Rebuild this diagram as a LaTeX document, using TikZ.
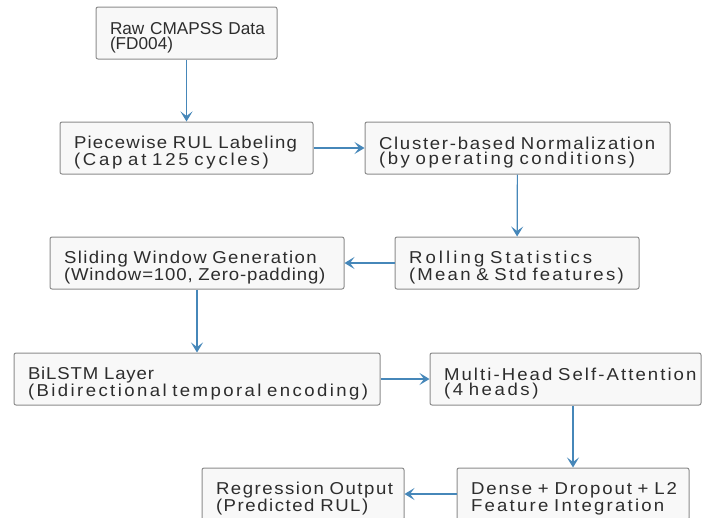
\documentclass[tikz,border=0pt]{standalone}
\usepackage{fontspec}
\setmainfont{Liberation Sans}
\newfontfamily\stagefont[FakeStretch=1.08, WordSpace=1.3]{Liberation Sans}
\usetikzlibrary{arrows.meta}

\definecolor{flowblue}{RGB}{70,135,185}
\definecolor{boxline}{RGB}{140,140,140}
\definecolor{boxfill}{RGB}{248,248,248}
\definecolor{boxtext}{RGB}{45,45,45}

% lines of a stage, each with its own letter spacing
\newcommand\topline[2]{\rule{0pt}{22pt}\mbox{\addfontfeature{LetterSpace=#1}#2}}
\newcommand\lsline[2]{\mbox{\addfontfeature{LetterSpace=#1}#2}}

\tikzset{
  stage/.style={draw=boxline, fill=boxfill, rounded corners=2pt, line width=1pt,
    minimum height=52pt, inner xsep=14pt, align=left, text=boxtext,
    font=\stagefont\fontsize{17.2}{15.5}\selectfont},
  flow/.style={draw=flowblue, line width=1.2pt,
    -{Stealth[length=10pt,width=12pt,inset=4.5pt]}}
}

\begin{document}
\begin{tikzpicture}[x=1pt,y=-1pt]
\useasboundingbox (0,0) rectangle (703,517);
\clip (0,0) rectangle (703,517);

%data preparation
\node[stage, text width=153pt, font=\rmfamily\fontsize{17.2}{15.5}\selectfont] (raw) at (186.5,33) {\topline{0}{Raw CMAPSS Data}\\\lsline{0}{(FD004)}};
\node[stage, text width=225pt] (rul) at (186.5,148) {\topline{7}{Piecewise RUL Labeling}\\\lsline{16}{(Cap at 125 cycles)}};
\node[stage, text width=277pt] (norm) at (517.5,148) {\topline{10}{Cluster-based Normalization}\\\lsline{15}{(by operating conditions)}};
\node[stage, text width=216pt] (roll) at (517,263) {\topline{18}{Rolling Statistics}\\\lsline{13}{(Mean \& Std features)}};
\node[stage, text width=266pt] (window) at (197,263) {\topline{8}{Sliding Window Generation}\\\lsline{5}{(Window=100, Zero-padding)}};

%model
\node[stage, text width=338pt] (bilstm) at (197,379) {\topline{5}{BiLSTM Layer}\\\lsline{14}{(Bidirectional temporal encoding)}};
\node[stage, text width=243pt] (attn) at (565.5,379) {\topline{12}{Multi-Head Self-Attention}\\\lsline{15}{(4 heads)}};
\node[stage, text width=204pt] (dense) at (573,494) {\topline{11}{Dense + Dropout + L2}\\\lsline{13}{Feature Integration}};
\node[stage, text width=174pt] (out) at (303,494) {\topline{9}{Regression Output}\\\lsline{9}{(Predicted RUL)}};

%connect the stages
\draw[flow] (raw) -- (rul);
\draw[flow] (rul) -- (norm);
\draw[flow] (norm) -- (roll);
\draw[flow] (roll) -- (window);
\draw[flow] (window) -- (bilstm);
\draw[flow] (bilstm) -- (attn);
\draw[flow] (dense.north |- attn.south) -- (dense);
\draw[flow] (dense) -- (out);

\end{tikzpicture}
\end{document}
